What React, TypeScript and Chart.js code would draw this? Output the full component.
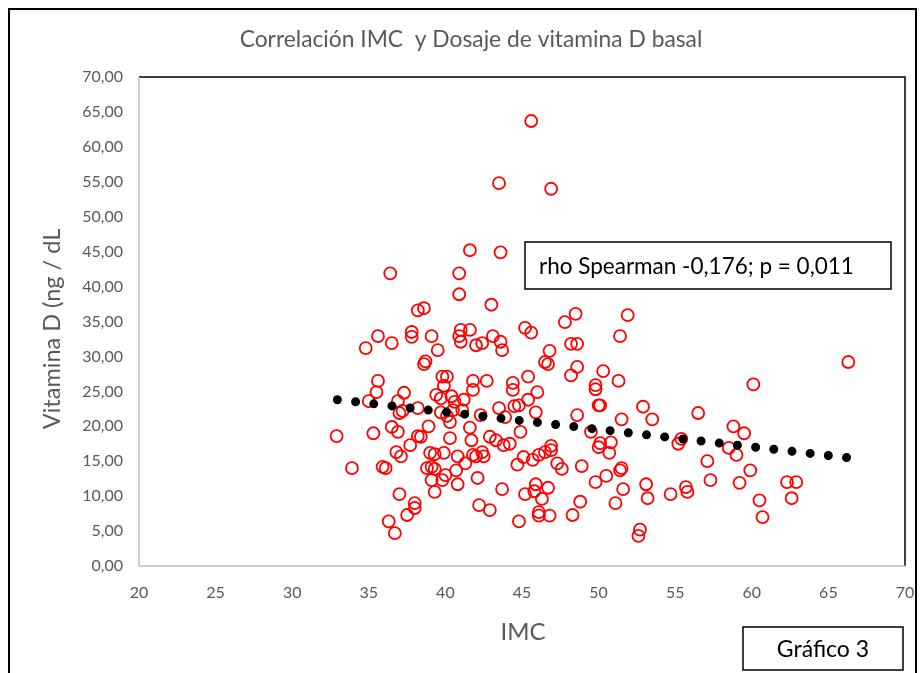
import { useEffect, useRef } from 'react';
import { Chart, registerables } from 'chart.js';

Chart.register(...registerables);

const TITLE = 'Correlación IMC  y Dosaje de vitamina D basal';
const X_TITLE = 'IMC';
const Y_TITLE = 'Vitamina D (ng / dL';
const NOTE = 'rho Spearman -0,176; p = 0,011';
const TAG = 'Gráfico 3';

const X_MIN = 20;
const X_MAX = 70;
const X_STEP = 5;
const Y_MIN = 0;
const Y_MAX = 70;
const Y_STEP = 5;

// IMC (x) and vitamin D (y) of each patient
const imc = [
  32.9, 33.9, 34.8, 35.0, 35.3, 35.5, 35.6, 35.6, 35.9, 36.1,
  36.3, 36.4, 36.5, 36.5, 36.7, 36.8, 36.9, 36.9, 37.0, 37.0,
  37.1, 37.2, 37.3, 37.5, 37.7, 37.8, 37.8, 38.0, 38.0, 38.2,
  38.2, 38.2, 38.4, 38.6, 38.6, 38.7, 38.8, 38.9, 39.0, 39.1,
  39.1, 39.1, 39.3, 39.3, 39.3, 39.4, 39.5, 39.7, 39.7, 39.8,
  39.8, 39.9, 39.9, 40.0, 40.1, 40.1, 40.3, 40.3, 40.4, 40.5,
  40.6, 40.7, 40.8, 40.8, 40.9, 40.9, 40.9, 41.0, 41.0, 41.1,
  41.2, 41.3, 41.6, 41.6, 41.6, 41.7, 41.8, 41.8, 41.8, 42.0,
  42.0, 42.1, 42.2, 42.3, 42.4, 42.4, 42.5, 42.7, 42.9, 42.9,
  43.0, 43.1, 43.3, 43.5, 43.5, 43.6, 43.6, 43.7, 43.7, 43.8,
  43.9, 44.2, 44.4, 44.4, 44.5, 44.7, 44.8, 44.8, 44.9, 45.1,
  45.2, 45.2, 45.4, 45.4, 45.6, 45.6, 45.7, 45.8, 45.9, 45.9,
  46.0, 46.1, 46.1, 46.1, 46.3, 46.5, 46.5, 46.7, 46.7, 46.8,
  46.8, 46.9, 46.9, 46.9, 47.3, 47.6, 47.8, 48.2, 48.2, 48.3,
  48.5, 48.6, 48.6, 48.6, 48.8, 48.9, 49.5, 49.8, 49.8, 49.8,
  50.0, 50.1, 50.0, 50.1, 50.3, 50.5, 50.7, 50.8, 51.1, 51.3,
  51.4, 51.4, 51.5, 51.5, 51.6, 51.9, 52.6, 52.7, 52.9, 53.1,
  53.2, 53.5, 54.7, 55.2, 55.4, 55.7, 55.8, 56.5, 57.1, 57.3,
  58.5, 58.8, 59.0, 59.2, 59.5, 59.9, 60.1, 60.5, 60.7, 62.3,
  62.6, 62.9, 66.3,
];
const vitD = [
  18.6, 14.0, 31.2, 23.6, 19.0, 24.9, 26.5, 32.9, 14.2, 14.0,
  6.4, 41.9, 31.9, 19.9, 4.7, 16.3, 19.2, 23.6, 21.9, 10.3,
  15.7, 22.2, 24.8, 7.3, 17.3, 33.5, 32.8, 8.3, 9.0, 18.6,
  36.6, 22.6, 18.5, 36.9, 28.9, 29.3, 14.0, 20.0, 16.2, 14.2,
  12.3, 32.9, 16.0, 10.6, 13.9, 24.5, 30.9, 24.0, 22.0, 27.1,
  12.3, 16.2, 25.8, 13.0, 21.5, 27.1, 20.6, 18.3, 24.3, 22.3,
  23.5, 13.7, 11.7, 15.7, 41.9, 38.9, 32.9, 33.8, 32.1, 22.3,
  23.8, 14.7, 19.8, 45.2, 33.8, 18.0, 15.9, 26.5, 25.2, 15.7,
  31.6, 12.6, 8.7, 21.6, 31.9, 16.3, 15.7, 26.5, 8.0, 18.5,
  37.4, 32.9, 18.0, 22.6, 54.8, 44.9, 32.1, 11.0, 30.9, 17.3,
  21.3, 17.5, 26.2, 25.2, 22.9, 14.5, 6.4, 23.0, 19.2, 15.6,
  10.3, 34.1, 27.1, 23.8, 63.7, 33.4, 15.2, 10.7, 11.7, 22.0,
  24.9, 15.9, 7.2, 7.7, 9.6, 29.2, 16.3, 11.2, 28.9, 30.8,
  7.2, 54.0, 17.2, 16.6, 14.7, 13.9, 34.9, 27.3, 31.8, 7.3,
  36.1, 21.6, 31.8, 28.5, 9.2, 14.3, 19.2, 25.9, 25.3, 12.0,
  23.0, 23.0, 17.0, 17.6, 27.9, 12.9, 16.2, 17.7, 9.0, 26.5,
  13.7, 32.9, 21.0, 14.0, 11.0, 35.9, 4.3, 5.2, 22.8, 11.7,
  9.7, 21.0, 10.3, 17.5, 18.2, 11.3, 10.6, 21.9, 15.0, 12.3,
  16.9, 20.0, 15.9, 11.9, 19.0, 13.7, 26.0, 9.4, 7.0, 12.0,
  9.7, 12.0, 29.2,
];

// linear trend line (ends)
const trendImc = [32.95, 66.3];
const trendVitD = [23.8, 15.5];

const fmt = (v: number) => v.toFixed(2).replace('.', ',');

const FONT = 'Lato, "Open Sans", sans-serif';
const GRAY = '#595959';

const decor = {
  id: 'decor',
  beforeDatasetsDraw(chart: any) {
    const { ctx, chartArea: a } = chart;
    ctx.save();
    ctx.strokeStyle = '#000';
    ctx.lineWidth = 1.5;
    ctx.beginPath();
    ctx.moveTo(a.left, a.top);
    ctx.lineTo(a.right, a.top);
    ctx.lineTo(a.right, a.bottom);
    ctx.stroke();
    ctx.strokeStyle = '#bfbfbf';
    ctx.lineWidth = 1.5;
    ctx.beginPath();
    ctx.moveTo(a.left, a.top);
    ctx.lineTo(a.left, a.bottom);
    ctx.lineTo(a.right, a.bottom);
    ctx.stroke();
    ctx.restore();
  },
  afterDraw(chart: any) {
    const { ctx } = chart;
    ctx.save();
    ctx.strokeStyle = '#000';
    ctx.lineWidth = 2;
    ctx.strokeRect(9, 9, 907, 700);

    ctx.fillStyle = GRAY;
    ctx.textAlign = 'center';
    ctx.textBaseline = 'middle';
    ctx.font = `22.8px ${FONT}`;
    ctx.fillText(TITLE, 471, 40);

    ctx.font = `24px ${FONT}`;
    ctx.fillText(X_TITLE, 523, 632);

    ctx.save();
    ctx.translate(52, 329);
    ctx.rotate(-Math.PI / 2);
    ctx.font = `23.5px ${FONT}`;
    ctx.fillText(Y_TITLE, 0, 0);
    ctx.restore();

    ctx.fillStyle = '#fff';
    ctx.fillRect(525, 242, 366, 47);
    ctx.strokeStyle = '#000';
    ctx.lineWidth = 1.5;
    ctx.strokeRect(525, 242, 366, 47);
    ctx.fillStyle = '#000';
    ctx.textAlign = 'left';
    ctx.font = `22.5px ${FONT}`;
    ctx.fillText(NOTE, 539, 267);

    ctx.fillStyle = '#fff';
    ctx.fillRect(743, 627, 160, 43);
    ctx.strokeRect(743, 627, 160, 43);
    ctx.fillStyle = '#000';
    ctx.textAlign = 'center';
    ctx.font = `23px ${FONT}`;
    ctx.fillText(TAG, 823, 650);
    ctx.restore();
  },
};

export default function App() {
  const ref = useRef<HTMLCanvasElement>(null);
  useEffect(() => {
    if (!ref.current) return;
    const points = imc.map((x, i) => ({ x, y: vitD[i] }));
    const trend = trendImc.map((x, i) => ({ x, y: trendVitD[i] }));
    const chart = new Chart(ref.current, {
      type: 'scatter',
      data: {
        datasets: [
          {
            label: 'trend',
            data: trend,
            showLine: true,
            borderColor: '#000',
            borderWidth: 9,
            borderCapStyle: 'round',
            borderDash: [0, 18.3],
            pointRadius: 0,
            order: 1,
          },
          {
            label: 'data',
            data: points,
            pointStyle: 'circle',
            pointRadius: 6,
            pointBorderWidth: 1.8,
            pointBorderColor: '#ff0000',
            pointBackgroundColor: 'rgba(0,0,0,0)',
            order: 2,
          },
        ],
      },
      options: {
        responsive: false,
        animation: false,
        layout: { padding: { left: 0, top: 77, right: 19, bottom: 67 } },
        plugins: {
          legend: { display: false },
          tooltip: { enabled: false },
          title: { display: false },
        },
        scales: {
          x: {
            type: 'linear',
            min: X_MIN,
            max: X_MAX,
            grid: { display: false, drawTicks: false },
            border: { display: false },
            ticks: {
              stepSize: X_STEP,
              color: GRAY,
              font: { family: FONT, size: 16 },
              padding: 17,
              maxRotation: 0,
            },
            afterFit: (s: any) => {
              s.height = 40;
              s.paddingLeft = 0;
              s.paddingRight = 0;
            },
          },
          y: {
            type: 'linear',
            min: Y_MIN,
            max: Y_MAX,
            grid: { display: false, drawTicks: false },
            border: { display: false },
            ticks: {
              stepSize: Y_STEP,
              color: GRAY,
              font: { family: FONT, size: 16 },
              padding: 16,
              callback: (v: any) => fmt(Number(v)),
            },
            afterFit: (s: any) => {
              s.width = 139;
              s.paddingTop = 0;
              s.paddingBottom = 0;
            },
          },
        },
      },
      plugins: [decor],
    } as any);
    return () => chart.destroy();
  }, []);
  return (
    <div style={{ position: 'fixed', left: 0, top: 0, width: 924, height: 673, background: '#fff' }}>
      <canvas ref={ref} width={924} height={673} />
    </div>
  );
}
